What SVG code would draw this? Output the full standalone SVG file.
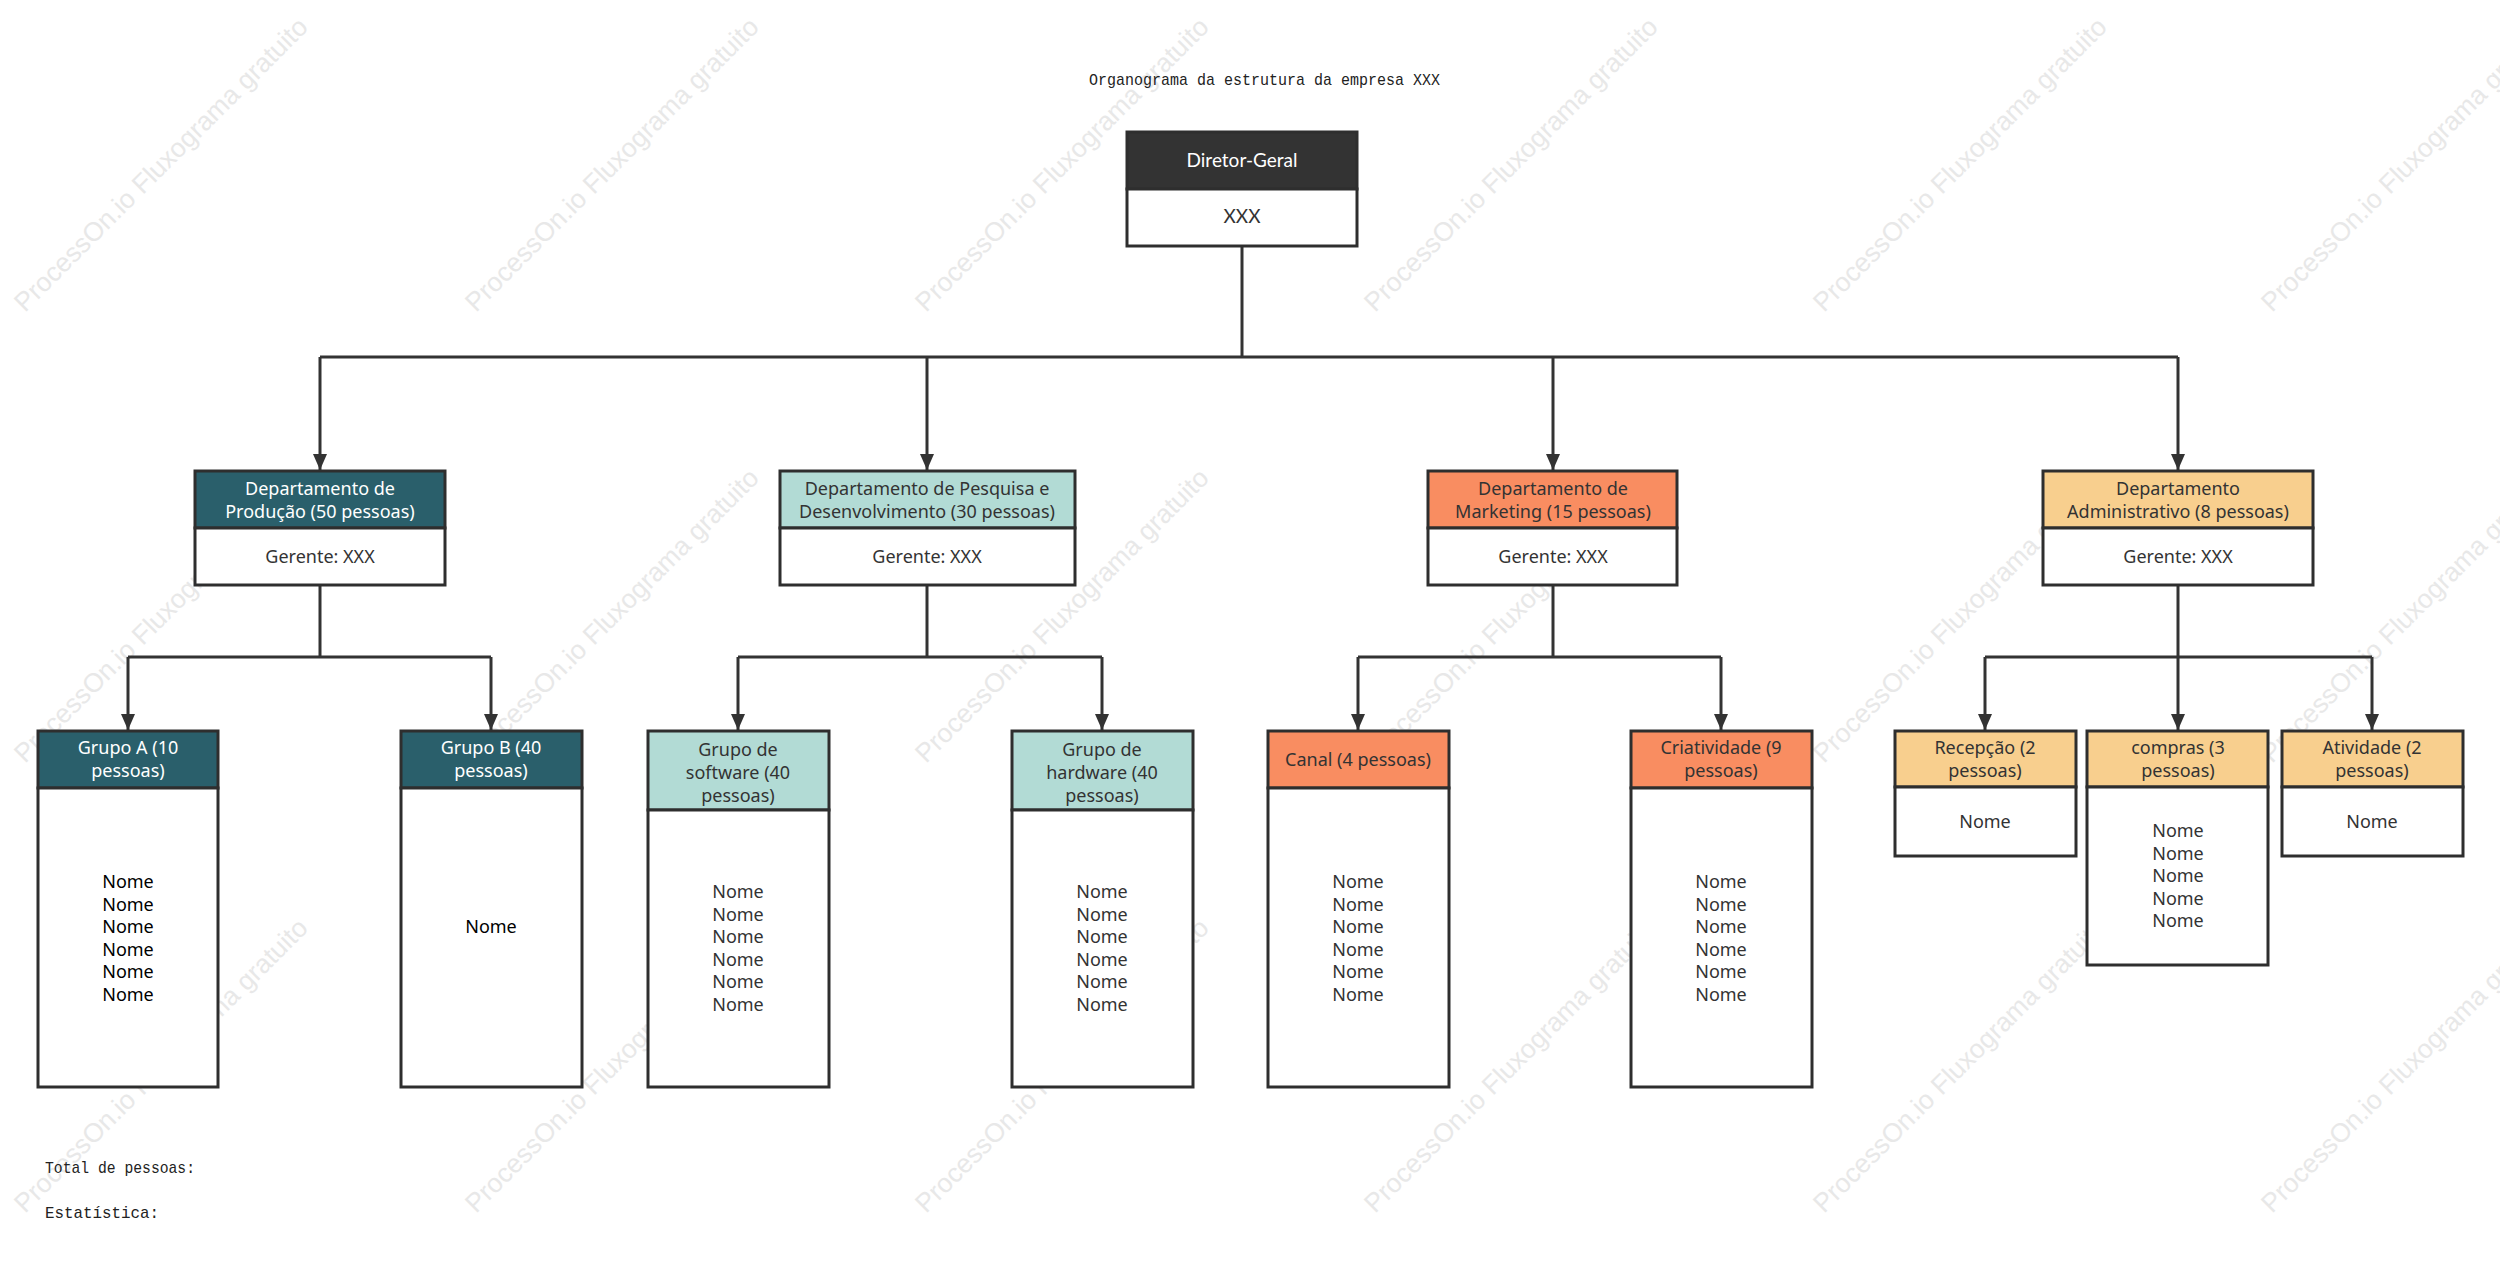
<svg xmlns="http://www.w3.org/2000/svg" width="2500" height="1284" viewBox="0 0 2500 1284">
<style>
.wm{font-family:"Liberation Sans",Arial,sans-serif;font-size:26.5px;fill:#e8e8e8}
.box{stroke:#2e2e2e;stroke-width:3}
.body{fill:#ffffff}
.t{font-family:"Noto Sans","Open Sans",sans-serif;font-size:18px;text-anchor:middle;fill:#333333}
.w{fill:#ffffff}
.k{fill:#000000}
.mono{font-family:"Liberation Mono",monospace;font-size:17px;fill:#222222}
.con{fill:none;stroke:#333333;stroke-width:3}
.c1{fill:#2a5f6b}
.c2{fill:#b2dbd5}
.c3{fill:#f98d61}
.c4{fill:#f8cf8e}
</style>
<defs>
<marker id="arr" markerUnits="userSpaceOnUse" markerWidth="16" markerHeight="14" refX="16" refY="7" orient="auto">
<path d="M0,0 L16,7 L0,14 z" fill="#333333"/>
</marker>
</defs>
<rect width="2500" height="1284" fill="#ffffff"/>
<g id="watermarks">
<text class="wm" transform="translate(25,313) rotate(-45)">ProcessOn.io Fluxograma gratuito</text>
<text class="wm" transform="translate(476,313) rotate(-45)">ProcessOn.io Fluxograma gratuito</text>
<text class="wm" transform="translate(926,313) rotate(-45)">ProcessOn.io Fluxograma gratuito</text>
<text class="wm" transform="translate(1375,313) rotate(-45)">ProcessOn.io Fluxograma gratuito</text>
<text class="wm" transform="translate(1824,313) rotate(-45)">ProcessOn.io Fluxograma gratuito</text>
<text class="wm" transform="translate(2272,313) rotate(-45)">ProcessOn.io Fluxograma gratuito</text>
<text class="wm" transform="translate(25,764) rotate(-45)">ProcessOn.io Fluxograma gratuito</text>
<text class="wm" transform="translate(476,764) rotate(-45)">ProcessOn.io Fluxograma gratuito</text>
<text class="wm" transform="translate(926,764) rotate(-45)">ProcessOn.io Fluxograma gratuito</text>
<text class="wm" transform="translate(1375,764) rotate(-45)">ProcessOn.io Fluxograma gratuito</text>
<text class="wm" transform="translate(1824,764) rotate(-45)">ProcessOn.io Fluxograma gratuito</text>
<text class="wm" transform="translate(2272,764) rotate(-45)">ProcessOn.io Fluxograma gratuito</text>
<text class="wm" transform="translate(25,1214) rotate(-45)">ProcessOn.io Fluxograma gratuito</text>
<text class="wm" transform="translate(476,1214) rotate(-45)">ProcessOn.io Fluxograma gratuito</text>
<text class="wm" transform="translate(926,1214) rotate(-45)">ProcessOn.io Fluxograma gratuito</text>
<text class="wm" transform="translate(1375,1214) rotate(-45)">ProcessOn.io Fluxograma gratuito</text>
<text class="wm" transform="translate(1824,1214) rotate(-45)">ProcessOn.io Fluxograma gratuito</text>
<text class="wm" transform="translate(2272,1214) rotate(-45)">ProcessOn.io Fluxograma gratuito</text>
</g>
<g id="labels">
<text class="mono" x="1089" y="85" textLength="351" lengthAdjust="spacingAndGlyphs">Organograma da estrutura da empresa XXX</text>
<text class="mono" x="45" y="1173" textLength="150" lengthAdjust="spacingAndGlyphs">Total de pessoas:</text>
<text class="mono" x="45" y="1218" textLength="114" lengthAdjust="spacingAndGlyphs">Estatística:</text>
</g>
<g id="connectors">
<path class="con" d="M1242,246 V357"/>
<path class="con" d="M320,357 H2178"/>
<path class="con" d="M320,357 V470" marker-end="url(#arr)"/>
<path class="con" d="M927,357 V470" marker-end="url(#arr)"/>
<path class="con" d="M1553,357 V470" marker-end="url(#arr)"/>
<path class="con" d="M2178,357 V470" marker-end="url(#arr)"/>
<path class="con" d="M320,585 V657"/>
<path class="con" d="M128,657 H491"/>
<path class="con" d="M128,657 V730" marker-end="url(#arr)"/>
<path class="con" d="M491,657 V730" marker-end="url(#arr)"/>
<path class="con" d="M927,585 V657"/>
<path class="con" d="M738,657 H1102"/>
<path class="con" d="M738,657 V730" marker-end="url(#arr)"/>
<path class="con" d="M1102,657 V730" marker-end="url(#arr)"/>
<path class="con" d="M1553,585 V657"/>
<path class="con" d="M1358,657 H1721"/>
<path class="con" d="M1358,657 V730" marker-end="url(#arr)"/>
<path class="con" d="M1721,657 V730" marker-end="url(#arr)"/>
<path class="con" d="M2178,585 V730" marker-end="url(#arr)"/>
<path class="con" d="M1985,657 H2372"/>
<path class="con" d="M1985,657 V730" marker-end="url(#arr)"/>
<path class="con" d="M2372,657 V730" marker-end="url(#arr)"/>
</g>
<g id="diretor">
<rect class="box" x="1127" y="132" width="230" height="57" fill="#333333"/>
<rect class="box body" x="1127" y="189" width="230" height="57"/>
<text x="1242" y="167" text-anchor="middle" font-family="Lato,sans-serif" font-size="19" fill="#ffffff">Diretor-Geral</text>
<text x="1242" y="223" text-anchor="middle" font-family="Lato,sans-serif" font-size="19" fill="#333333">XXX</text>
</g>
<g id="dep-producao">
<rect class="box c1" x="195" y="471" width="250" height="57"/>
<rect class="box body" x="195" y="528" width="250" height="57"/>
<text class="t w" x="320" y="495">Departamento de</text>
<text class="t w" x="320" y="518">Produção (50 pessoas)</text>
<text class="t" x="320" y="563">Gerente: XXX</text>
</g>
<g id="dep-pd">
<rect class="box c2" x="780" y="471" width="295" height="57"/>
<rect class="box body" x="780" y="528" width="295" height="57"/>
<text class="t" x="927" y="495">Departamento de Pesquisa e</text>
<text class="t" x="927" y="518">Desenvolvimento (30 pessoas)</text>
<text class="t" x="927" y="563">Gerente: XXX</text>
</g>
<g id="dep-marketing">
<rect class="box c3" x="1428" y="471" width="249" height="57"/>
<rect class="box body" x="1428" y="528" width="249" height="57"/>
<text class="t" x="1553" y="495">Departamento de</text>
<text class="t" x="1553" y="518">Marketing (15 pessoas)</text>
<text class="t" x="1553" y="563">Gerente: XXX</text>
</g>
<g id="dep-admin">
<rect class="box c4" x="2043" y="471" width="270" height="57"/>
<rect class="box body" x="2043" y="528" width="270" height="57"/>
<text class="t" x="2178" y="495">Departamento</text>
<text class="t" x="2178" y="518">Administrativo (8 pessoas)</text>
<text class="t" x="2178" y="563">Gerente: XXX</text>
</g>
<g id="grupo-a">
<rect class="box c1" x="38" y="731" width="180" height="57"/>
<rect class="box body" x="38" y="788" width="180" height="299"/>
<text class="t w" x="128" y="754">Grupo A (10</text>
<text class="t w" x="128" y="777">pessoas)</text>
<text class="t k" x="128" y="888">Nome</text>
<text class="t k" x="128" y="910.5">Nome</text>
<text class="t k" x="128" y="933">Nome</text>
<text class="t k" x="128" y="955.5">Nome</text>
<text class="t k" x="128" y="978">Nome</text>
<text class="t k" x="128" y="1000.5">Nome</text>
</g>
<g id="grupo-b">
<rect class="box c1" x="401" y="731" width="181" height="57"/>
<rect class="box body" x="401" y="788" width="181" height="299"/>
<text class="t w" x="491" y="754">Grupo B (40</text>
<text class="t w" x="491" y="777">pessoas)</text>
<text class="t k" x="491" y="933">Nome</text>
</g>
<g id="grupo-software">
<rect class="box c2" x="648" y="731" width="181" height="79"/>
<rect class="box body" x="648" y="810" width="181" height="277"/>
<text class="t" x="738" y="756">Grupo de</text>
<text class="t" x="738" y="779">software (40</text>
<text class="t" x="738" y="802">pessoas)</text>
<text class="t" x="738" y="898">Nome</text>
<text class="t" x="738" y="920.5">Nome</text>
<text class="t" x="738" y="943">Nome</text>
<text class="t" x="738" y="965.5">Nome</text>
<text class="t" x="738" y="988">Nome</text>
<text class="t" x="738" y="1010.5">Nome</text>
</g>
<g id="grupo-hardware">
<rect class="box c2" x="1012" y="731" width="181" height="79"/>
<rect class="box body" x="1012" y="810" width="181" height="277"/>
<text class="t" x="1102" y="756">Grupo de</text>
<text class="t" x="1102" y="779">hardware (40</text>
<text class="t" x="1102" y="802">pessoas)</text>
<text class="t" x="1102" y="898">Nome</text>
<text class="t" x="1102" y="920.5">Nome</text>
<text class="t" x="1102" y="943">Nome</text>
<text class="t" x="1102" y="965.5">Nome</text>
<text class="t" x="1102" y="988">Nome</text>
<text class="t" x="1102" y="1010.5">Nome</text>
</g>
<g id="grupo-canal">
<rect class="box c3" x="1268" y="731" width="181" height="57"/>
<rect class="box body" x="1268" y="788" width="181" height="299"/>
<text class="t" x="1358" y="766">Canal (4 pessoas)</text>
<text class="t" x="1358" y="888">Nome</text>
<text class="t" x="1358" y="910.5">Nome</text>
<text class="t" x="1358" y="933">Nome</text>
<text class="t" x="1358" y="955.5">Nome</text>
<text class="t" x="1358" y="978">Nome</text>
<text class="t" x="1358" y="1000.5">Nome</text>
</g>
<g id="grupo-criatividade">
<rect class="box c3" x="1631" y="731" width="181" height="57"/>
<rect class="box body" x="1631" y="788" width="181" height="299"/>
<text class="t" x="1721" y="754">Criatividade (9</text>
<text class="t" x="1721" y="777">pessoas)</text>
<text class="t" x="1721" y="888">Nome</text>
<text class="t" x="1721" y="910.5">Nome</text>
<text class="t" x="1721" y="933">Nome</text>
<text class="t" x="1721" y="955.5">Nome</text>
<text class="t" x="1721" y="978">Nome</text>
<text class="t" x="1721" y="1000.5">Nome</text>
</g>
<g id="grupo-recepcao">
<rect class="box c4" x="1895" y="731" width="181" height="56"/>
<rect class="box body" x="1895" y="787" width="181" height="69"/>
<text class="t" x="1985" y="754">Recepção (2</text>
<text class="t" x="1985" y="777">pessoas)</text>
<text class="t" x="1985" y="828">Nome</text>
</g>
<g id="grupo-compras">
<rect class="box c4" x="2087" y="731" width="181" height="56"/>
<rect class="box body" x="2087" y="787" width="181" height="178"/>
<text class="t" x="2178" y="754">compras (3</text>
<text class="t" x="2178" y="777">pessoas)</text>
<text class="t" x="2178" y="837">Nome</text>
<text class="t" x="2178" y="859.5">Nome</text>
<text class="t" x="2178" y="882">Nome</text>
<text class="t" x="2178" y="904.5">Nome</text>
<text class="t" x="2178" y="927">Nome</text>
</g>
<g id="grupo-atividade">
<rect class="box c4" x="2282" y="731" width="181" height="56"/>
<rect class="box body" x="2282" y="787" width="181" height="69"/>
<text class="t" x="2372" y="754">Atividade (2</text>
<text class="t" x="2372" y="777">pessoas)</text>
<text class="t" x="2372" y="828">Nome</text>
</g>
</svg>
